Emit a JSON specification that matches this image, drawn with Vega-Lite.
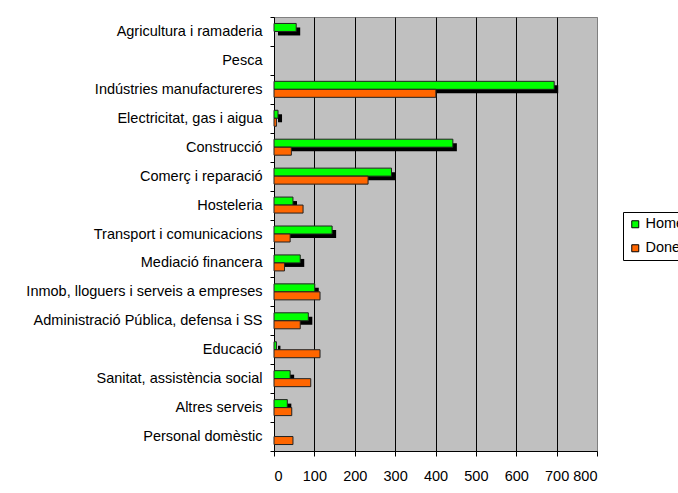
{
  "$schema": "https://vega.github.io/schema/vega-lite/v6.json",
  "width": 323,
  "height": 434,
  "autosize": "none",
  "padding": {"left": 274, "top": 17, "right": 81, "bottom": 42},
  "background": "#ffffff",
  "data": {
    "values": [
      {"sector": "Agricultura i ramaderia", "sex": "Homes", "value": 55},
      {"sector": "Agricultura i ramaderia", "sex": "Dones", "value": 0},
      {"sector": "Pesca", "sex": "Homes", "value": 0},
      {"sector": "Pesca", "sex": "Dones", "value": 0},
      {"sector": "Indústries manufactureres", "sex": "Homes", "value": 694},
      {"sector": "Indústries manufactureres", "sex": "Dones", "value": 401},
      {"sector": "Electricitat, gas i aigua", "sex": "Homes", "value": 10},
      {"sector": "Electricitat, gas i aigua", "sex": "Dones", "value": 6},
      {"sector": "Construcció", "sex": "Homes", "value": 443},
      {"sector": "Construcció", "sex": "Dones", "value": 43},
      {"sector": "Comerç i reparació", "sex": "Homes", "value": 291},
      {"sector": "Comerç i reparació", "sex": "Dones", "value": 233},
      {"sector": "Hosteleria", "sex": "Homes", "value": 47},
      {"sector": "Hosteleria", "sex": "Dones", "value": 72},
      {"sector": "Transport i comunicacions", "sex": "Homes", "value": 144},
      {"sector": "Transport i comunicacions", "sex": "Dones", "value": 40},
      {"sector": "Mediació financera", "sex": "Homes", "value": 65},
      {"sector": "Mediació financera", "sex": "Dones", "value": 26},
      {"sector": "Inmob, lloguers i serveis a empreses", "sex": "Homes", "value": 101},
      {"sector": "Inmob, lloguers i serveis a empreses", "sex": "Dones", "value": 114},
      {"sector": "Administració Pública, defensa i SS", "sex": "Homes", "value": 85},
      {"sector": "Administració Pública, defensa i SS", "sex": "Dones", "value": 65},
      {"sector": "Educació", "sex": "Homes", "value": 6},
      {"sector": "Educació", "sex": "Dones", "value": 114},
      {"sector": "Sanitat, assistència social", "sex": "Homes", "value": 40},
      {"sector": "Sanitat, assistència social", "sex": "Dones", "value": 91},
      {"sector": "Altres serveis", "sex": "Homes", "value": 33},
      {"sector": "Altres serveis", "sex": "Dones", "value": 44},
      {"sector": "Personal domèstic", "sex": "Homes", "value": 0},
      {"sector": "Personal domèstic", "sex": "Dones", "value": 47}
    ]
  },
  "transform": [{"filter": "datum.value > 0"}],
  "encoding": {
    "y": {
      "field": "sector",
      "type": "nominal",
      "title": null,
      "scale": {
        "domain": [
          "Agricultura i ramaderia", "Pesca", "Indústries manufactureres",
          "Electricitat, gas i aigua", "Construcció", "Comerç i reparació",
          "Hosteleria", "Transport i comunicacions", "Mediació financera",
          "Inmob, lloguers i serveis a empreses", "Administració Pública, defensa i SS",
          "Educació", "Sanitat, assistència social", "Altres serveis", "Personal domèstic"
        ],
        "paddingInner": 0,
        "paddingOuter": 0
      },
      "axis": {
        "tickBand": "extent",
        "tickSize": 4,
        "labelPadding": 8,
        "domainColor": "#000000",
        "tickColor": "#000000",
        "labelLimit": 300
      }
    },
    "x": {
      "field": "value",
      "type": "quantitative",
      "title": null,
      "scale": {"domain": [0, 800], "nice": false},
      "axis": {
        "values": [0, 100, 200, 300, 400, 500, 600, 700, 800],
        "grid": true,
        "gridColor": {"condition": {"test": "datum.value == 800 || datum.value == 0", "value": "#808080"}, "value": "#000000"},
        "gridWidth": 1,
        "tickSize": 5,
        "labelPadding": 13,
        "domainColor": "#000000",
        "tickColor": "#000000"
      }
    }
  },
  "layer": [
    {
      "transform": [{"filter": "datum.sex == 'Homes'"}],
      "mark": {"type": "bar", "height": 8, "xOffset": 4, "x2Offset": 4, "yOffset": 0, "color": "#000000"}
    },
    {
      "transform": [{"filter": "datum.sex == 'Homes'"}],
      "mark": {"type": "bar", "height": 8, "yOffset": -4, "stroke": "#222222", "strokeWidth": 1, "opacity": 1},
      "encoding": {
        "color": {
          "field": "sex",
          "type": "nominal",
          "scale": {"domain": ["Homes", "Dones"], "range": ["#00ff00", "#ff6600"]},
          "legend": {"title": null}
        }
      }
    },
    {
      "transform": [{"filter": "datum.sex == 'Dones'"}],
      "mark": {"type": "bar", "height": 8, "yOffset": 4, "stroke": "#222222", "strokeWidth": 1, "opacity": 1},
      "encoding": {
        "color": {
          "field": "sex",
          "type": "nominal",
          "scale": {"domain": ["Homes", "Dones"], "range": ["#00ff00", "#ff6600"]},
          "legend": {"title": null}
        }
      }
    }
  ],
  "config": {
    "font": "Liberation Sans",
    "view": {"fill": "#c0c0c0", "stroke": "#808080"},
    "axis": {"labelFont": "Liberation Sans", "labelFontSize": 14.5, "labelColor": "#000000"},
    "legend": {
      "orient": "none",
      "legendX": 349,
      "legendY": 195,
      "fillColor": "#ffffff",
      "strokeColor": "#000000",
      "padding": 5,
      "rowPadding": 9,
      "symbolType": "square",
      "symbolSize": 49,
      "symbolStrokeColor": "#000000",
      "symbolStrokeWidth": 1,
      "symbolOpacity": 1,
      "labelFont": "Liberation Sans",
      "labelFontSize": 14.5,
      "labelColor": "#000000",
      "labelOffset": 3
    }
  }
}
